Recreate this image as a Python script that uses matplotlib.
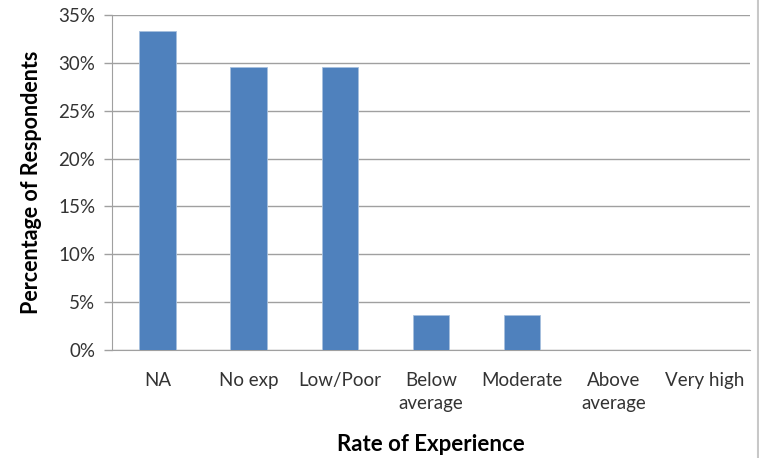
import matplotlib.pyplot as plt
from matplotlib.ticker import FuncFormatter
import numpy as np

categories = ["NA", "No exp", "Low/Poor", "Below\naverage", "Moderate", "Above\naverage", "Very high"]
percent = [33.3, 29.6, 29.6, 3.7, 3.7, 0, 0]
yticks = [0, 5, 10, 15, 20, 25, 30, 35]

plt.rcParams['font.family'] = ['Lato', 'DejaVu Sans']

fig = plt.figure(figsize=(7.59, 4.58), dpi=100)
ax = fig.add_axes([112 / 759, 1 - 350 / 458, (750 - 112) / 759, (350 - 15) / 458])

x = np.arange(len(categories))
ax.bar(x, percent, width=0.4, color='#4F81BD', edgecolor='#A7C0DE', linewidth=0.6, zorder=3)

ax.set_xlim(-0.5, len(categories) - 0.5)
ax.set_ylim(0, 35)
ax.set_yticks(yticks)
ax.yaxis.set_major_formatter(FuncFormatter(lambda v, p: f"{v:.0f}%"))
ax.grid(axis='y', color='#A0A0A0', linewidth=1, zorder=0)

ax.set_xticks(x)
ax.set_xticklabels(categories, fontsize=13.5, color='#333333', linespacing=1.4)
ax.tick_params(axis='x', length=0, pad=16)
ax.tick_params(axis='y', length=6, width=1, color='#A0A0A0', labelsize=13.5, labelcolor='#333333', pad=6)

for s in ['top', 'right']:
    ax.spines[s].set_visible(False)
ax.spines['left'].set_color('#A0A0A0')
ax.spines['bottom'].set_color('#A0A0A0')

ax.set_ylabel("Percentage of Respondents", fontsize=15.5, fontweight='bold', labelpad=12)
ax.set_xlabel("Rate of Experience", fontsize=16, fontweight='bold', labelpad=16)

fig.add_artist(plt.Line2D([757.5 / 759, 757.5 / 759], [0, 1], color='#C8C8C8', linewidth=1.5))

fig.savefig("out.png", dpi=100)
